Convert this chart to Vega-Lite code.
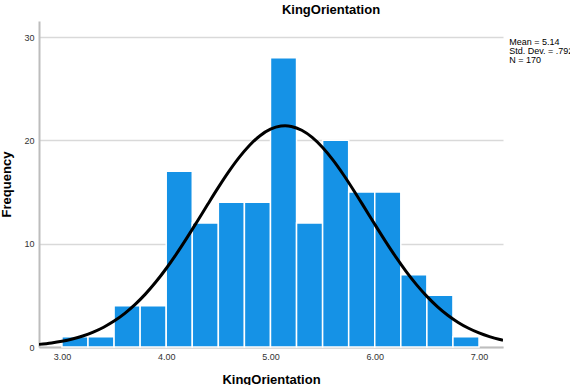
{
  "$schema": "https://vega.github.io/schema/vega-lite/v6.json",
  "autosize": "none",
  "width": 464,
  "height": 326,
  "padding": {"left": 39, "top": 21, "right": 67, "bottom": 38},
  "background": "white",
  "config": {
    "font": "Liberation Sans",
    "view": {"stroke": null}
  },
  "title": {
    "text": "KingOrientation",
    "fontSize": 13,
    "fontWeight": "bold",
    "font": "Liberation Sans",
    "color": "#000000",
    "dx": 60,
    "offset": 4
  },
  "datasets": {
    "bins": [
      {"start": 3.00, "end": 3.25, "count": 1},
      {"start": 3.25, "end": 3.50, "count": 1},
      {"start": 3.50, "end": 3.75, "count": 4},
      {"start": 3.75, "end": 4.00, "count": 4},
      {"start": 4.00, "end": 4.25, "count": 17},
      {"start": 4.25, "end": 4.50, "count": 12},
      {"start": 4.50, "end": 4.75, "count": 14},
      {"start": 4.75, "end": 5.00, "count": 14},
      {"start": 5.00, "end": 5.25, "count": 28},
      {"start": 5.25, "end": 5.50, "count": 12},
      {"start": 5.50, "end": 5.75, "count": 20},
      {"start": 5.75, "end": 6.00, "count": 15},
      {"start": 6.00, "end": 6.25, "count": 15},
      {"start": 6.25, "end": 6.50, "count": 7},
      {"start": 6.50, "end": 6.75, "count": 5},
      {"start": 6.75, "end": 7.00, "count": 1}
    ],
    "curve": [
      {"x": 2.78, "y": 0.253}, {"x": 2.9, "y": 0.392}, {"x": 3.0, "y": 0.556}, {"x": 3.1, "y": 0.776},
      {"x": 3.2, "y": 1.066}, {"x": 3.3, "y": 1.441}, {"x": 3.4, "y": 1.916}, {"x": 3.5, "y": 2.509},
      {"x": 3.6, "y": 3.232}, {"x": 3.7, "y": 4.099}, {"x": 3.8, "y": 5.116}, {"x": 3.9, "y": 6.284},
      {"x": 4.0, "y": 7.597}, {"x": 4.1, "y": 9.040}, {"x": 4.2, "y": 10.585}, {"x": 4.3, "y": 12.198},
      {"x": 4.4, "y": 13.836}, {"x": 4.5, "y": 15.445}, {"x": 4.6, "y": 16.968}, {"x": 4.7, "y": 18.346},
      {"x": 4.8, "y": 19.523}, {"x": 4.9, "y": 20.447}, {"x": 5.0, "y": 21.076}, {"x": 5.1, "y": 21.381},
      {"x": 5.14, "y": 21.408}, {"x": 5.2, "y": 21.347}, {"x": 5.3, "y": 20.976}, {"x": 5.4, "y": 20.285},
      {"x": 5.5, "y": 19.307}, {"x": 5.6, "y": 18.085}, {"x": 5.7, "y": 16.673}, {"x": 5.8, "y": 15.128},
      {"x": 5.9, "y": 13.509}, {"x": 6.0, "y": 11.872}, {"x": 6.1, "y": 10.270}, {"x": 6.2, "y": 8.742},
      {"x": 6.3, "y": 7.324}, {"x": 6.4, "y": 6.039}, {"x": 6.5, "y": 4.900}, {"x": 6.6, "y": 3.914},
      {"x": 6.7, "y": 3.077}, {"x": 6.8, "y": 2.380}, {"x": 6.9, "y": 1.812}, {"x": 7.0, "y": 1.358},
      {"x": 7.1, "y": 1.002}, {"x": 7.2, "y": 0.727}, {"x": 7.23, "y": 0.658}
    ],
    "stats": [
      {"x": 7.29, "y": 29.9, "label": "Mean = 5.14\nStd. Dev. = .792\nN = 170"}
    ]
  },
  "layer": [
    {
      "data": {"name": "bins"},
      "mark": {"type": "rect", "color": "#1592E6", "stroke": "#ffffff", "strokeWidth": 1.5},
      "encoding": {
        "x": {
          "field": "start", "type": "quantitative",
          "scale": {"domain": [2.78, 7.23], "nice": false, "zero": false},
          "axis": {
            "values": [3, 4, 5, 6, 7], "format": ".2f",
            "title": "KingOrientation", "titleFontSize": 13, "titleFontWeight": "bold", "titleColor": "#000000",
            "titlePadding": 12,
            "labelFontSize": 9, "labelColor": "#333333", "labelPadding": 5,
            "ticks": false, "grid": false,
            "domainColor": "#bdbdbd", "domainWidth": 2
          }
        },
        "x2": {"field": "end"},
        "y": {
          "field": "count", "type": "quantitative",
          "scale": {"domain": [0, 31.55], "nice": false},
          "axis": {
            "values": [0, 10, 20, 30],
            "title": "Frequency", "titleFontSize": 13, "titleFontWeight": "bold", "titleColor": "#000000",
            "titlePadding": 10,
            "labelFontSize": 9, "labelColor": "#333333", "labelPadding": 5,
            "ticks": false, "grid": true, "gridColor": "#d9d9d9", "gridWidth": 1.5,
            "domainColor": "#bdbdbd", "domainWidth": 2
          }
        },
        "y2": {"datum": 0}
      }
    },
    {
      "data": {"name": "curve"},
      "mark": {"type": "line", "color": "#000000", "strokeWidth": 3, "interpolate": "monotone", "clip": true},
      "encoding": {
        "x": {"field": "x", "type": "quantitative"},
        "y": {"field": "y", "type": "quantitative"}
      }
    },
    {
      "data": {"name": "stats"},
      "mark": {"type": "text", "align": "left", "baseline": "top", "fontSize": 9, "lineBreak": "\n", "lineHeight": 9, "color": "#000000", "font": "Liberation Sans"},
      "encoding": {
        "x": {"field": "x", "type": "quantitative"},
        "y": {"field": "y", "type": "quantitative"},
        "text": {"field": "label"}
      }
    }
  ]
}
